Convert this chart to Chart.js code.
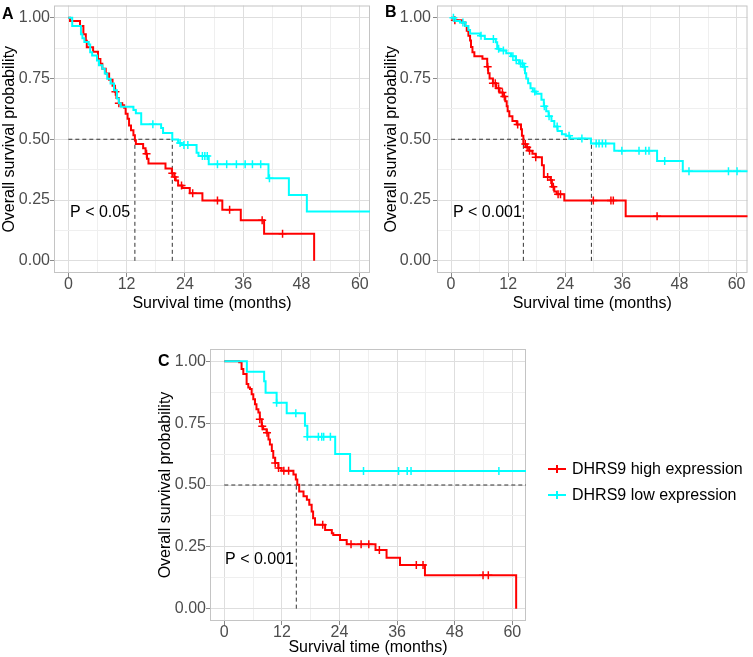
<!DOCTYPE html>
<html>
<head>
<meta charset="utf-8">
<script src="https://cdn.jsdelivr.net/npm/chart.js@4.4.0/dist/chart.umd.min.js"></script>
<style>
  html, body { margin: 0; padding: 0; background: #fff; overflow: hidden; }
  body { width: 753px; height: 657px; position: relative; }
  .panel { position: absolute; }
</style>
</head>
<body>
<div class="panel" style="left:0;top:0;width:376px;height:315px"><canvas id="chartA"></canvas></div>
<div class="panel" style="left:382px;top:0;width:371px;height:315px"><canvas id="chartB"></canvas></div>
<div class="panel" style="left:156px;top:320px;width:597px;height:337px"><canvas id="chartC"></canvas></div>
<script>
// groups and axis ticks
const groups = ['DHRS9 high expression', 'DHRS9 low expression'];
const groupColors = ['#FF0000', '#00FFFF'];
const xTicks = [0, 12, 24, 36, 48, 60];
const yTicks = [0, 0.25, 0.5, 0.75, 1];

// panel A  -- [months, survival] at each drop
const aHigh = [[0,1],[0.35,0.986],[2.4,0.966],[3.1,0.932],[3.6,0.905],[3.8,0.878],[5.1,0.86],[6.1,0.83],[6.6,0.81],[7.0,0.79],[7.7,0.77],[8.4,0.745],[9.1,0.72],[9.6,0.695],[9.9,0.67],[10.4,0.648],[11.1,0.64],[11.5,0.63],[11.8,0.605],[12.2,0.584],[12.5,0.557],[12.9,0.537],[13.4,0.516],[13.7,0.496],[13.9,0.48],[15.4,0.463],[15.9,0.44],[16.2,0.42],[16.5,0.40],[20.0,0.38],[21.3,0.36],[21.8,0.345],[22.1,0.33],[22.6,0.31],[23.5,0.30],[25.0,0.278],[27.6,0.248],[31.7,0.21],[35.5,0.167],[40.3,0.111],[50.6,0]];
const aLow = [[0,1],[0.8,0.966],[2.6,0.932],[2.9,0.915],[3.3,0.9],[4.2,0.89],[4.5,0.858],[4.9,0.844],[5.9,0.824],[6.3,0.804],[7.0,0.79],[7.5,0.77],[8.0,0.749],[8.7,0.729],[9.4,0.702],[10.0,0.668],[10.4,0.648],[10.8,0.634],[13.4,0.62],[13.9,0.607],[15.0,0.562],[19.1,0.546],[19.5,0.526],[21.4,0.499],[22.6,0.485],[23.3,0.476],[26.4,0.444],[26.8,0.431],[28.9,0.397],[41.2,0.34],[45.4,0.271],[49.1,0.203],[62.5,0.203]];
const aHighCens = [9.7, 10.4, 16.1, 21.4, 21.9, 23.3, 25.6, 30.7, 33.2, 39.9, 44.1];
const aLowCens = [17.4, 23.0, 23.8, 24.6, 27.6, 28.1, 28.6, 30.7, 32.6, 34.6, 36.4, 37.9, 39.6, 41.4];
const aMedians = [13.7, 21.4];

// panel B
const bHigh = [[0,1],[0.55,0.989],[2.3,0.98],[3.0,0.966],[3.3,0.946],[3.65,0.926],[4.0,0.906],[4.2,0.879],[4.5,0.858],[4.9,0.841],[6.6,0.831],[7.6,0.798],[7.8,0.771],[8.1,0.75],[8.8,0.73],[9.5,0.71],[10.2,0.692],[10.9,0.676],[11.4,0.656],[11.7,0.636],[11.9,0.615],[12.25,0.595],[12.9,0.575],[13.8,0.561],[14.7,0.541],[14.9,0.514],[15.2,0.48],[15.7,0.467],[16.4,0.453],[17.1,0.44],[17.8,0.426],[19.1,0.393],[19.5,0.345],[20.9,0.332],[21.2,0.305],[21.7,0.285],[22.2,0.274],[23.8,0.248],[36.7,0.183],[62.5,0.183]];
const bLow = [[0,1],[0.9,0.986],[1.9,0.98],[3.0,0.966],[3.65,0.949],[4.0,0.935],[6.1,0.926],[7.1,0.912],[9.4,0.899],[9.7,0.872],[10.2,0.865],[11.6,0.854],[12.6,0.841],[13.6,0.825],[14.3,0.811],[15.1,0.798],[15.55,0.771],[15.8,0.75],[16.2,0.73],[16.7,0.71],[17.2,0.696],[17.9,0.687],[19.0,0.662],[19.5,0.636],[20.0,0.615],[20.5,0.595],[21.1,0.575],[21.7,0.552],[22.4,0.534],[23.3,0.521],[24.1,0.514],[25.0,0.503],[29.4,0.483],[34.3,0.453],[43.3,0.411],[48.7,0.368],[62.5,0.368]];
const bHighCens = [0.8, 7.7, 8.8, 9.3, 10.0, 10.8, 11.2, 14.0, 15.6, 16.0, 16.5, 17.8, 20.3, 21.0, 21.5, 22.5, 23.0, 29.9, 33.6, 34.1, 43.3];
const bLowCens = [0.5, 2.5, 6.3, 8.9, 10.0, 11.0, 13.0, 13.7, 14.6, 15.0, 15.4, 17.6, 19.6, 20.6, 22.3, 24.8, 27.5, 30.5, 31.1, 31.8, 32.5, 35.9, 39.5, 40.9, 41.6, 44.9, 50.0, 58.3, 60.1];
const bMedians = [15.2, 29.5];

// panel C
const cHigh = [[0,1],[3.1,0.996],[3.6,0.969],[3.96,0.949],[4.65,0.908],[5.0,0.894],[5.35,0.888],[5.7,0.867],[6.04,0.847],[6.4,0.827],[6.7,0.806],[7.1,0.793],[7.4,0.766],[7.8,0.738],[8.1,0.725],[8.8,0.711],[9.2,0.684],[9.5,0.664],[9.9,0.637],[10.2,0.61],[10.6,0.589],[11.25,0.569],[11.9,0.558],[14.4,0.542],[14.9,0.522],[15.2,0.501],[15.6,0.474],[16.5,0.454],[17.2,0.44],[17.7,0.42],[18.2,0.393],[18.5,0.366],[18.9,0.339],[21.0,0.318],[22.4,0.305],[22.7,0.298],[24.1,0.278],[25.5,0.26],[31.5,0.237],[33.8,0.206],[36.6,0.176],[41.8,0.135],[60.8,0]];
const cLow = [[0,1],[4.7,0.958],[8.3,0.92],[8.6,0.873],[10.9,0.833],[13.0,0.79],[16.8,0.74],[17.3,0.695],[23.1,0.625],[26.2,0.557],[63,0.557]];
const cHighCens = [7.4, 7.9, 8.9, 10.6, 11.3, 12.4, 13.4, 20.5, 26.4, 28.5, 30.1, 32.3, 40.0, 41.4, 53.9, 55.0];
const cLowCens = [10.9, 14.9, 17.3, 19.6, 20.3, 20.7, 22.1, 29.0, 36.3, 38.1, 38.9, 57.2];
const cMedians = [15.0];

const FONT = '"Liberation Sans", Arial, Helvetica, sans-serif';
Chart.defaults.font.family = FONT;
Chart.defaults.font.size = 16;

// value of the step curve at time t
function survAt(curve, t) {
  let s = 1;
  for (const p of curve) {
    if (p[0] <= t) s = p[1];
    else break;
  }
  return s;
}

function isMajor(list, v) {
  return list.some(m => Math.abs(m - v) < 1e-6);
}

const panelBorder = {
  id: 'panelBorder',
  beforeDatasetsDraw(chart) {
    const {ctx, chartArea: a} = chart;
    ctx.save();
    ctx.strokeStyle = '#c4c4c4';
    ctx.lineWidth = 1;
    ctx.strokeRect(a.left + 0.5, a.top + 0.5, a.right - a.left - 1, a.bottom - a.top - 1);
    ctx.restore();
  }
};

const panelText = {
  id: 'panelText',
  afterDraw(chart, args, opts) {
    const {ctx, scales: {x, y}} = chart;
    ctx.save();
    ctx.fillStyle = '#000';
    ctx.textBaseline = 'middle';
    ctx.textAlign = 'left';
    ctx.font = 'bold 16px ' + FONT;
    ctx.fillText(opts.letter, opts.letterPos[0], opts.letterPos[1]);
    ctx.font = '16px ' + FONT;
    ctx.fillText(opts.pText, x.getPixelForValue(opts.pAt[0]), y.getPixelForValue(opts.pAt[1]));

    if (opts.legend) {
      const [lx, ly, gap] = opts.legend;
      const curves = chart.data.datasets.filter(d => d.isCurve)
        .sort((a, b) => a.group - b.group);
      curves.forEach((d, i) => {
        const yy = ly + i * gap;
        ctx.strokeStyle = d.borderColor;
        ctx.lineWidth = 2;
        ctx.beginPath();
        ctx.moveTo(lx, yy);
        ctx.lineTo(lx + 18, yy);
        ctx.moveTo(lx + 9, yy - 4);
        ctx.lineTo(lx + 9, yy + 4);
        ctx.stroke();
        ctx.fillStyle = '#000';
        ctx.fillText(d.label, lx + 24, yy + 1);
      });
    }
    ctx.restore();
  }
};

function makeChart(id, p) {
  const curve = (data, i) => ({
    label: groups[i],
    group: i,
    isCurve: true,
    data: data.map(d => ({x: d[0], y: d[1]})),
    borderColor: groupColors[i],
    borderWidth: 2,
    stepped: 'before',
    pointRadius: 0,
    fill: false
  });
  const cens = (times, data, i) => ({
    label: groups[i] + ' censored',
    data: times.map(t => ({x: t, y: survAt(data, t)})),
    showLine: false,
    pointStyle: 'cross',
    pointRadius: 4,
    pointBorderWidth: 1.5,
    borderColor: groupColors[i],
    backgroundColor: groupColors[i]
  });
  const dash = pts => ({
    data: pts,
    borderColor: '#333',
    borderWidth: 1,
    borderDash: [4, 3],
    pointRadius: 0,
    fill: false
  });

  const datasets = [
    curve(p.low, 1), cens(p.lowCens, p.low, 1),
    curve(p.high, 0), cens(p.highCens, p.high, 0),
    dash([{x: 0, y: 0.5}, {x: p.hEnd, y: 0.5}])
  ];
  p.medians.forEach(m => datasets.push(dash([{x: m, y: 0}, {x: m, y: 0.5}])));

  const allX = [];
  for (let v = 0; v <= 60; v += 6) allX.push(v);
  const allY = [];
  for (let v = 0; v <= 1.0001; v += 0.125) allY.push(v);

  return new Chart(document.getElementById(id), {
    type: 'line',
    data: {datasets},
    options: {
      responsive: true,
      maintainAspectRatio: false,
      animation: false,
      layout: {padding: p.pad},
      plugins: {
        legend: {display: false},
        tooltip: {enabled: false},
        panelText: {letter: p.letter, letterPos: p.letterPos, pText: p.pText, pAt: p.pAt, legend: p.legend}
      },
      scales: {
        x: {
          type: 'linear',
          min: p.xMin,
          max: p.xMax,
          afterBuildTicks: s => { s.ticks = allX.map(v => ({value: v})); },
          afterFit: s => { s.height = p.xAxisH; },
          ticks: {
            autoSkip: false,
            maxRotation: 0,
            color: '#4d4d4d',
            padding: -2,
            callback: v => isMajor(xTicks, v) ? String(v) : ''
          },
          grid: {
            color: c => isMajor(xTicks, c.tick.value) ? '#dedede' : '#efefef',
            tickLength: 4,
            tickColor: c => isMajor(xTicks, c.tick.value) ? '#8a8a8a' : 'rgba(0,0,0,0)'
          },
          border: {display: false},
          title: {display: true, text: 'Survival time (months)', color: '#000', padding: {top: 0, bottom: p.xTitlePad}}
        },
        y: {
          type: 'linear',
          min: -0.05,
          max: 1.05,
          afterBuildTicks: s => { s.ticks = allY.map(v => ({value: v})); },
          afterFit: s => { s.width = p.yAxisW; },
          ticks: {
            autoSkip: false,
            color: '#4d4d4d',
            padding: p.yLabelPad,
            font: {size: 16, lineHeight: 0.2},
            callback: v => isMajor(yTicks, v) ? v.toFixed(2) : ''
          },
          grid: {
            color: c => isMajor(yTicks, c.tick.value) ? '#dedede' : '#efefef',
            tickLength: 4,
            tickColor: c => isMajor(yTicks, c.tick.value) ? '#8a8a8a' : 'rgba(0,0,0,0)'
          },
          border: {display: false},
          title: {display: true, text: 'Overall survival probability', color: '#000', padding: {top: 0, bottom: 0}}
        }
      }
    },
    plugins: [panelBorder, panelText]
  });
}

makeChart('chartA', {
  high: aHigh, low: aLow, highCens: aHighCens, lowCens: aLowCens,
  medians: aMedians, hEnd: Math.max(...aMedians),
  xMin: -2.95, xMax: 62.1,
  pad: {left: 0, top: 2, right: 6, bottom: 0},
  yAxisW: 54, xAxisH: 42, xTitlePad: 2, yLabelPad: 0,
  letter: 'A', letterPos: [2, 15], pText: 'P < 0.05', pAt: [0.35, 0.2]
});

makeChart('chartB', {
  high: bHigh, low: bLow, highCens: bHighCens, lowCens: bLowCens,
  medians: bMedians, hEnd: Math.max(...bMedians),
  xMin: -2.95, xMax: 62.3,
  pad: {left: 0, top: 1, right: 0, bottom: 0},
  yAxisW: 55, xAxisH: 42, xTitlePad: 2, yLabelPad: 2,
  letter: 'B', letterPos: [3, 13], pText: 'P < 0.001', pAt: [0.4, 0.2]
});

makeChart('chartC', {
  high: cHigh, low: cLow, highCens: cHighCens, lowCens: cLowCens,
  medians: cMedians, hEnd: 63,
  xMin: -2.98, xMax: 62.85,
  pad: {left: 0, top: 29, right: 227, bottom: 0},
  yAxisW: 54, xAxisH: 36, xTitlePad: 0, yLabelPad: 0,
  letter: 'C', letterPos: [2, 42], pText: 'P < 0.001', pAt: [0.15, 0.2],
  legend: [392, 149, 26]
});
</script>
</body>
</html>
